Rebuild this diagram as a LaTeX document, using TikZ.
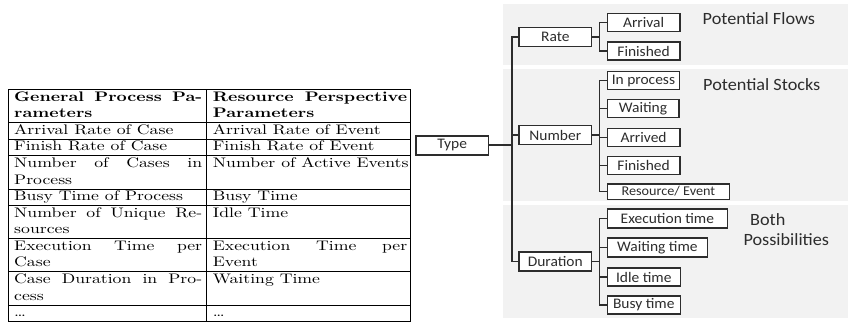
\documentclass[tikz,border=0pt]{standalone}
\usepackage{fontspec}
\usepackage{graphicx}
\newfontfamily\carl{Carlito}[FakeStretch=1.06]
\definecolor{inkgray}{RGB}{45,45,45}
\definecolor{panelgray}{RGB}{242,242,242}
% table text: 10pt Latin Modern, stretched to the table's proportions
\newcommand\tcell[1]{\scalebox{1.77}[1.383]{#1}}
\newcommand\jline[2]{\makebox[#1][s]{#2}}
\tikzset{
  rule/.style={line width=0.95pt, black},
  cellA/.style={anchor=base west, inner sep=0pt},
  treebox/.style={draw=inkgray, line width=1.6pt, fill=white, inner sep=0pt,
    minimum height=18.5pt, font=\carl\fontsize{14.6}{15}\selectfont, text=inkgray},
  conn/.style={draw=inkgray, line width=1.6pt},
  panel/.style={fill=panelgray, draw=none},
  tag/.style={anchor=base west, inner sep=0pt, font=\carl\fontsize{17.2}{18}\selectfont, text=inkgray}
}
\begin{document}
\begin{tikzpicture}[x=1pt,y=-1pt]
\useasboundingbox (0,0) rectangle (848,327);

% ---------------- parameter table ----------------
\foreach \yy in {89.5,122.66,139.24,155.82,188.98,205.56,238.72,271.88,305.04,321.62}
  \draw[rule] (8,\yy) -- (410.7,\yy);
\draw[rule] (8,89.5) -- (8,321.62);
\draw[rule] (206.7,89.5) -- (206.7,321.62);
\draw[rule] (410.7,89.5) -- (410.7,321.62);

% first column
\node[cellA] (ga) at (14,101.1) {\tcell{\bfseries\jline{106.2pt}{General Process Pa-}}};
\node[cellA] (gb) at (14,117.68) {\tcell{\bfseries rameters}};
\node[cellA] (g1) at (14,134.26) {\tcell{Arrival Rate of Case}};
\node[cellA] (g2) at (14,150.84) {\tcell{Finish Rate of Case}};
\node[cellA] (g3a) at (14,167.42) {\tcell{\jline{106.2pt}{Number of Cases in}}};
\node[cellA] (g3b) at (14,184.0) {\tcell{Process}};
\node[cellA] (g4) at (14,200.58) {\tcell{Busy Time of Process}};
\node[cellA] (g5a) at (14,217.16) {\tcell{\jline{106.2pt}{Number of Unique Re-}}};
\node[cellA] (g5b) at (14,233.74) {\tcell{sources}};
\node[cellA] (g6a) at (14,250.32) {\tcell{\jline{106.2pt}{Execution Time per}}};
\node[cellA] (g6b) at (14,266.9) {\tcell{Case}};
\node[cellA] (g7a) at (14,283.48) {\tcell{\jline{106.2pt}{Case Duration in Pro-}}};
\node[cellA] (g7b) at (14,300.06) {\tcell{cess}};
\node[cellA] (g8) at (14,316.64) {\tcell{\ldots}};

% second column
\node[cellA] (ra) at (212.7,101.1) {\tcell{\bfseries\jline{109.8pt}{Resource Perspective}}};
\node[cellA] (rb) at (212.7,117.68) {\tcell{\bfseries Parameters}};
\node[cellA] (r1) at (212.7,134.26) {\tcell{Arrival Rate of Event}};
\node[cellA] (r2) at (212.7,150.84) {\tcell{Finish Rate of Event}};
\node[cellA] (r3) at (212.7,167.42) {\tcell{Number of Active Events}};
\node[cellA] (r4) at (212.7,200.58) {\tcell{Busy Time}};
\node[cellA] (r5) at (212.7,217.16) {\tcell{Idle Time}};
\node[cellA] (r6a) at (212.7,250.32) {\tcell{\jline{109.8pt}{Execution Time per}}};
\node[cellA] (r6b) at (212.7,266.9) {\tcell{Event}};
\node[cellA] (r7) at (212.7,283.48) {\tcell{Waiting Time}};
\node[cellA] (r8) at (212.7,316.64) {\tcell{\ldots}};

% ---------------- grey groups ----------------
\fill[panel] (503.3,4) rectangle (848,65);
\fill[panel] (503.3,69.3) rectangle (848,201);
\fill[panel] (503.3,205) rectangle (848,318);

% ---------------- classification tree ----------------
\node[treebox, minimum width=72.8pt, minimum height=19pt] (type) at (452.2,145.2) {Type};
\node[treebox, minimum width=72.4pt, minimum height=19pt] (rate) at (555.3,37) {Rate};
\node[treebox, minimum width=72.4pt, minimum height=19pt] (number) at (555.3,135) {Number};
\node[treebox, minimum width=72.4pt, minimum height=19.3pt] (duration) at (555.3,261.5) {Duration};

\node[treebox, minimum width=72.6pt, minimum height=17.8pt] (arrival) at (643.6,22.5) {Arrival};
\node[treebox, minimum width=72.6pt] (finA) at (643.6,51) {Finished};

\node[treebox, minimum width=72.2pt, minimum height=17.8pt] (inproc) at (643.4,80.5) {In process};
\node[treebox, minimum width=71.4pt, minimum height=17.8pt] (waiting) at (643,108.5) {Waiting};
\node[treebox, minimum width=72.6pt, minimum height=17.8pt] (arrived) at (643.6,137.5) {Arrived};
\node[treebox, minimum width=72.6pt, minimum height=17.8pt] (finB) at (643.6,165.5) {Finished};
\node[treebox, minimum width=122.2pt, minimum height=15.8pt,
      font=\carl\fontsize{13.4}{14}\selectfont] (resev) at (668.4,191.6) {Resource/ Event};

\node[treebox, minimum width=120.2pt] (exect) at (667.4,218.5) {Execution time};
\node[treebox, minimum width=100.2pt] (waitt) at (657.4,247.5) {Waiting time};
\node[treebox, minimum width=73pt] (idlet) at (643.8,277) {Idle time};
\node[treebox, minimum width=73pt] (busyt) at (643.8,305) {Busy time};

% trunk from Type to the three kinds
\coordinate (tk) at (511.7,145);
\draw[conn] (type.east) -- (type.east -| tk);
\draw[conn] (rate.west) -- (rate.west -| tk) -- (duration.west -| tk) -- (duration.west);
\draw[conn] (number.west) -- (number.west -| tk);

% branches of Rate
\coordinate (rk) at (599.3,37);
\draw[conn] (rate.east) -- (rate.east -| rk);
\draw[conn] (arrival.west) -- (arrival.west -| rk) -- (finA.west -| rk) -- (finA.west);

% branches of Number
\coordinate (nk) at (599.3,135);
\draw[conn] (number.east) -- (number.east -| nk);
\draw[conn] (inproc.west) -- (inproc.west -| nk) -- (resev.west -| nk) -- (resev.west);
\draw[conn] (waiting.west) -- (waiting.west -| nk);
\draw[conn] (arrived.west) -- (arrived.west -| nk);
\draw[conn] (finB.west) -- (finB.west -| nk);

% branches of Duration
\coordinate (dk) at (599.3,261.5);
\draw[conn] (duration.east) -- (duration.east -| dk);
\draw[conn] (exect.west) -- (exect.west -| dk) -- (busyt.west -| dk) -- (busyt.west);
\draw[conn] (waitt.west) -- (waitt.west -| dk);
\draw[conn] (idlet.west) -- (idlet.west -| dk);

% group captions
\node[tag] (flows) at (702.5,24) {Potential Flows};
\node[tag] (stocks) at (703,90) {Potential Stocks};
\node[tag] (both) at (750,225.5) {Both};
\node[tag] (poss) at (743.3,245) {Possibilities};
\end{tikzpicture}
\end{document}
